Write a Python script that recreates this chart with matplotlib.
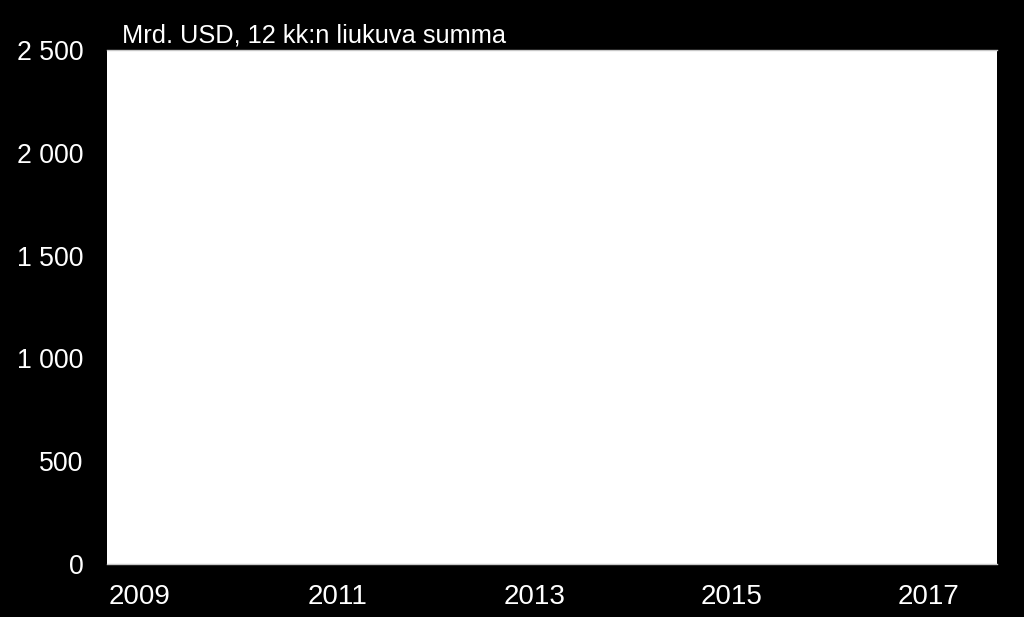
import matplotlib
matplotlib.use("Agg")
import matplotlib.pyplot as plt

# Data / labels
x_tick_years = [2009, 2011, 2013, 2015, 2017]
x_tick_labels = ["2009", "2011", "2013", "2015", "2017"]
y_ticks = [0, 500, 1000, 1500, 2000, 2500]
y_tick_labels = ["0", "500", "1 000", "1 500", "2 000", "2 500"]
unit_label = "Mrd. USD, 12 kk:n liukuva summa"

plt.rcParams['font.family'] = ['Liberation Sans', 'DejaVu Sans']

W, H, DPI = 1024, 617, 100
fig = plt.figure(figsize=(W / DPI, H / DPI), dpi=DPI, facecolor='black')

left, right, top, bottom = 107, 997, 50, 564
ax = fig.add_axes([left / W, 1 - bottom / H, (right - left) / W, (bottom - top) / H])
ax.set_facecolor('white')

ax.set_xlim(2008.665, 2017.69)
ax.set_ylim(0, 2500)

ax.set_xticks(x_tick_years)
ax.set_xticklabels(x_tick_labels)
ax.set_yticks(y_ticks)
ax.set_yticklabels(y_tick_labels)

ax.tick_params(axis='both', length=0, colors='white')
ax.tick_params(axis='x', pad=14.5, labelsize=20)
ax.tick_params(axis='y', pad=17, labelsize=19.2)

for side in ['left', 'right']:
    ax.spines[side].set_visible(False)
for side in ['top', 'bottom']:
    ax.spines[side].set_color('#c8c8c8')
    ax.spines[side].set_linewidth(1.0)

fig.text(122 / W, 1 - 42 / H, unit_label, color='white', fontsize=18.3,
         ha='left', va='baseline')

fig.savefig('out.png', dpi=DPI, facecolor='black')
